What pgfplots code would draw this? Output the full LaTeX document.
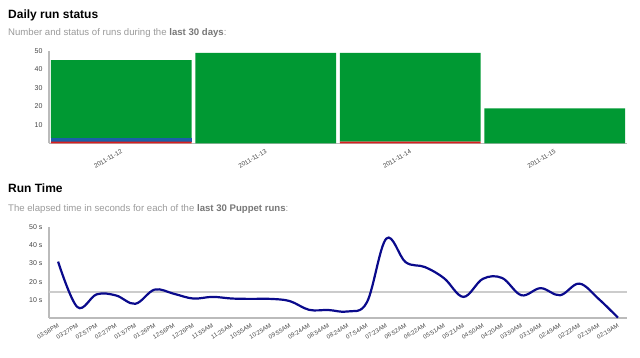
\documentclass[border=0pt]{standalone}
\usepackage{pgfplots}
\pgfplotsset{compat=1.18}
\usepackage{fontspec}
\setmainfont{Liberation Sans}
\definecolor{okgreen}{HTML}{009933}
\definecolor{chblue}{HTML}{1A5FA8}
\definecolor{failred}{HTML}{D81E1E}
\definecolor{runblue}{HTML}{0A0A8C}
\definecolor{axgray}{HTML}{BBBBBB}
\definecolor{subgray}{HTML}{9A9A9A}
\definecolor{boldgray}{HTML}{777777}
\definecolor{ticktext}{HTML}{444444}
\begin{document}
\begin{tikzpicture}[x=1pt,y=1pt]
\path[use as bounding box] (0,0) rectangle (640,-358);
\node[anchor=base west, inner sep=0] at (8,-18.5) {\fontsize{12}{14}\selectfont\bfseries Daily run status};
\node[anchor=base west, inner sep=0, text=subgray] at (8,-36) {\fontsize{9.6}{11}\selectfont Number and status of runs during the \textcolor{boldgray}{\bfseries last 30 days}:};
\node[anchor=base west, inner sep=0] at (8,-192.3) {\fontsize{12}{14}\selectfont\bfseries Run Time};
\node[anchor=base west, inner sep=0, text=subgray] at (8,-211.5) {\fontsize{9.6}{11}\selectfont The elapsed time in seconds for each of the \textcolor{boldgray}{\bfseries last 30 Puppet runs}:};

\begin{axis}[
  at={(49pt,-143.5pt)}, anchor=south west,
  scale only axis, width=578pt, height=92.5pt,
  xmin=-0.5, xmax=3.5, ymin=0, ymax=50,
  axis x line=bottom, axis y line=left,
  axis line style={-, axgray, line width=1.3pt},
  ybar stacked, bar width=0.975,
  xtick={0,1,2,3},
  xticklabels={2011-11-12,2011-11-13,2011-11-14,2011-11-15},
  ytick={10,20,30,40,50},
  /pgf/number format/assume math mode=true,
  major tick length=0pt,
  tick style={draw=none},
  yticklabel style={font=\fontsize{7}{8}\selectfont, text=ticktext, xshift=-3pt},
  xticklabel style={font=\fontsize{6.3}{7}\selectfont, text=ticktext, rotate=30, anchor=north east, yshift=-1pt},
  clip=false,
]
\addplot[fill=failred, draw=none] coordinates {(0,1) (1,0) (2,1) (3,0)};
\addplot[fill=chblue, draw=none] coordinates {(0,2) (1,0) (2,0) (3,0)};
\addplot[fill=okgreen, draw=none] coordinates {(0,42) (1,49) (2,48) (3,19)};
\end{axis}

\begin{axis}[
  at={(49pt,-318pt)}, anchor=south west,
  scale only axis, width=578pt, height=91pt,
  xmin=-0.47, xmax=29.47, ymin=0, ymax=50,
  axis x line=bottom, axis y line=left,
  axis line style={-, axgray, line width=1.3pt},
  xtick={0,...,29},
  xticklabels={03:58PM,03:27PM,02:57PM,02:27PM,01:57PM,01:26PM,12:56PM,12:26PM,11:55AM,11:25AM,10:55AM,10:25AM,09:55AM,09:24AM,08:54AM,08:24AM,07:54AM,07:23AM,06:52AM,06:22AM,05:51AM,05:21AM,04:50AM,04:20AM,03:50AM,03:19AM,02:49AM,02:22AM,02:19AM,02:19AM},
  ytick={10,20,30,40,50},
  yticklabels={10 s,20 s,30 s,40 s,50 s},
  major tick length=0pt,
  tick style={draw=none},
  yticklabel style={font=\fontsize{7}{8}\selectfont, text=ticktext, xshift=-3pt},
  xticklabel style={font=\fontsize{6}{7}\selectfont, text=ticktext, rotate=30, anchor=north east, yshift=-1pt},
  clip=false,
]
\addplot[color=gray!40, line width=1.6pt] coordinates {(-0.47,14.2) (29.47,14.2)};
\addplot[color=runblue, line width=2.2pt, smooth, tension=0.6] coordinates {
(0,31) (1,6) (2,13) (3,12.4) (4,7.8) (5,15.6) (6,13.3) (7,10.7) (8,11.6) (9,10.7)
(10,10.5) (11,10.5) (12,9.3) (13,4.5) (14,4.4) (15,3.6) (16,8.7) (17,43.6) (18,30.7) (19,28)
(20,21.8) (21,11.6) (22,21.5) (23,22) (24,12.5) (25,16.4) (26,12.5) (27,18.9) (28,10.5) (29,0.2)};
\end{axis}
\end{tikzpicture}
\end{document}
